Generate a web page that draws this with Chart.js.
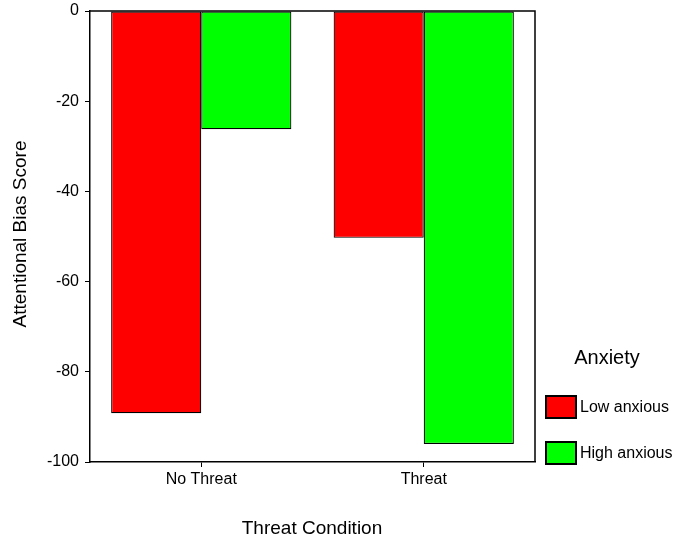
<!DOCTYPE html>
<html>
<head>
<meta charset="utf-8">
<script src="https://cdn.jsdelivr.net/npm/chart.js@4"></script>
<style>
  html, body { margin: 0; padding: 0; background: #fff; }
  #wrap { width: 678px; height: 543px; }
</style>
</head>
<body>
<div id="wrap"><canvas id="chart" width="678" height="543"></canvas></div>
<script>
const categories = ['No Threat', 'Threat'];
const lowAnxious = [-89.2, -50.3];
const highAnxious = [-26.2, -96.0];
const yTicks = [0, -20, -40, -60, -80, -100];
const legendTitle = 'Anxiety';
const xTitle = 'Threat Condition';
const yTitle = 'Attentional Bias Score';

const FONT = 'Arial, "Liberation Sans", sans-serif';

// box around plot, axis titles and the legend on the right
const extras = {
  id: 'extras',
  afterDraw(chart) {
    const ctx = chart.ctx;
    const a = chart.chartArea;
    ctx.save();
    ctx.strokeStyle = '#000';
    ctx.lineWidth = 1.5;
    ctx.beginPath();
    ctx.moveTo(a.left, a.top);
    ctx.lineTo(a.right, a.top);
    ctx.lineTo(a.right, a.bottom);
    ctx.stroke();

    ctx.fillStyle = '#000';
    ctx.font = '19px ' + FONT;
    ctx.textAlign = 'center';
    ctx.textBaseline = 'middle';
    ctx.fillText(xTitle, 312, 529);

    ctx.save();
    ctx.translate(21, 234);
    ctx.rotate(-Math.PI / 2);
    ctx.fillText(yTitle, 0, 0);
    ctx.restore();

    ctx.font = '20px ' + FONT;
    ctx.fillText(legendTitle, 607, 358);

    ctx.font = '16px ' + FONT;
    ctx.textAlign = 'left';
    chart.data.datasets.forEach((ds, i) => {
      const y = 396 + i * 46;
      ctx.fillStyle = ds.backgroundColor;
      ctx.fillRect(546, y, 30, 22);
      ctx.strokeStyle = '#000';
      ctx.lineWidth = 2;
      ctx.strokeRect(546, y, 30, 22);
      ctx.fillStyle = '#000';
      ctx.fillText(ds.label, 580, y + 12);
    });
    ctx.restore();
  }
};

new Chart(document.getElementById('chart'), {
  type: 'bar',
  data: {
    labels: categories,
    datasets: [
      { label: 'Low anxious', data: lowAnxious, backgroundColor: '#ff0000', borderColor: '#000', borderWidth: 1.2, borderSkipped: false },
      { label: 'High anxious', data: highAnxious, backgroundColor: '#00ff00', borderColor: '#000', borderWidth: 1.2, borderSkipped: false }
    ]
  },
  options: {
    responsive: false,
    animation: false,
    devicePixelRatio: 1,
    layout: { padding: { left: 0, top: 11, right: 143, bottom: 0 } },
    plugins: {
      legend: { display: false },
      tooltip: { enabled: false }
    },
    datasets: {
      bar: { categoryPercentage: 0.81, barPercentage: 1.0 }
    },
    scales: {
      x: {
        grid: { drawOnChartArea: false, drawTicks: true, tickLength: 5, color: '#000', offset: false },
        border: { display: true, color: '#000', width: 1.5 },
        ticks: { color: '#000', font: { family: FONT, size: 16 }, padding: 3 },
        afterFit: s => { s.height = 81; s.paddingLeft = 0; s.paddingRight = 0; }
      },
      y: {
        min: -100,
        max: 0,
        afterBuildTicks: s => { s.ticks = yTicks.map(v => ({ value: v })); },
        grid: { drawOnChartArea: false, drawTicks: true, tickLength: 5, color: '#000' },
        border: { display: true, color: '#000', width: 1.5 },
        ticks: { color: '#000', font: { family: FONT, size: 16 }, padding: 6 },
        afterFit: s => { s.width = 90; s.paddingTop = 0; s.paddingBottom = 0; }
      }
    }
  },
  plugins: [extras]
});
</script>
</body>
</html>
